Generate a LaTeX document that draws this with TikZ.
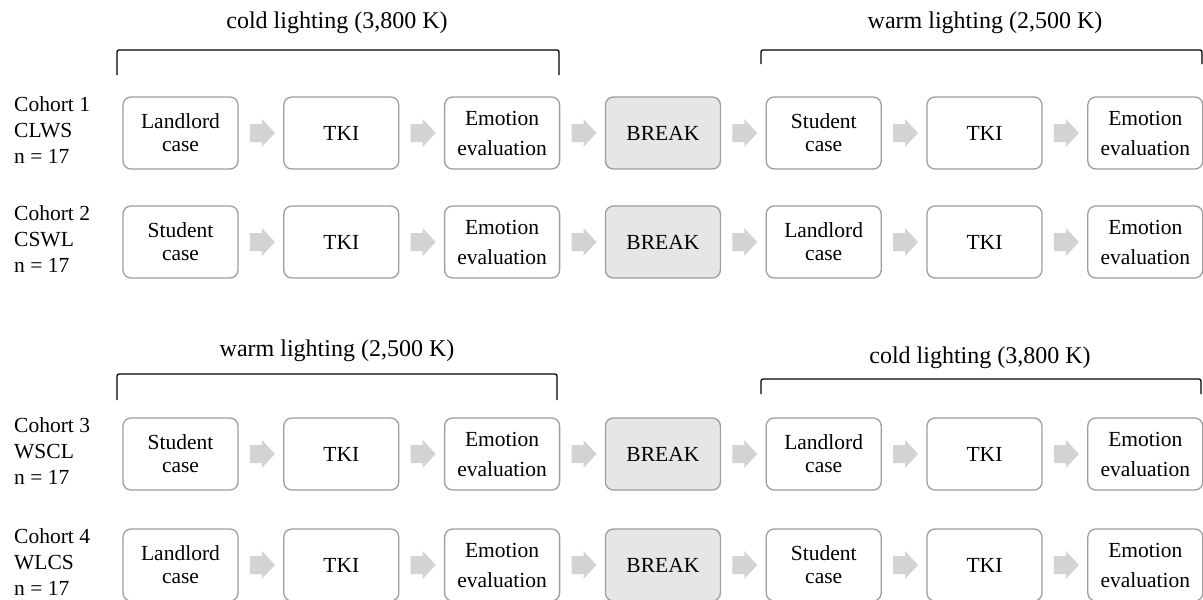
\documentclass[tikz,border=0pt]{standalone}
\usepackage{fontspec}
\setmainfont{Liberation Serif}
\usetikzlibrary{calc}
\definecolor{boxgray}{HTML}{9E9E9E}
\definecolor{arrowgray}{HTML}{D3D3D3}
\definecolor{breakfill}{HTML}{E6E6E6}
\begin{document}
\begin{tikzpicture}[x=1pt,y=-1pt,
  stage/.style={draw=boxgray, line width=1.3pt, rounded corners=8pt,
    minimum width=115pt, minimum height=72pt, inner sep=0pt, align=center,
    fill=white, font=\fontsize{21.5}{23}\selectfont},
  brk/.style={stage, fill=breakfill},
  emo/.style={font=\fontsize{21.5}{30}\selectfont},
  cohort/.style={anchor=west, align=left, inner sep=0pt,
    font=\fontsize{21.5}{26}\selectfont},
  lbl/.style={inner sep=0pt, font=\fontsize{24}{28}\selectfont},
  bracket/.style={draw=black, line width=1.3pt, rounded corners=2pt},
  flowarrow/.pic={\fill[arrowgray] (-11,-9) -- (1,-9) -- (1,-14) -- (14,0)
    -- (1,14) -- (1,9) -- (-11,9) -- cycle;}
]
\useasboundingbox (0,0) rectangle (1203,600);

% lighting labels
\node[lbl] (t1) at (337,23) {cold lighting (3,800 K)};
\node[lbl] (t2) at (985,23) {warm lighting (2,500 K)};
\node[lbl] (t3) at (337,351) {warm lighting (2,500 K)};
\node[lbl] (t4) at (980,358) {cold lighting (3,800 K)};

% brackets
\draw[bracket] (117,75) -- (117,50) -- (559,50) -- (559,75);
\draw[bracket] (761,64) -- (761,50) -- (1202,50) -- (1202,64);
\draw[bracket] (117,400) -- (117,374) -- (557,374) -- (557,400);
\draw[bracket] (761,394) -- (761,379) -- (1201,379) -- (1201,394);

\foreach \r/\yy/\coh/\cod/\fa/\fb in {1/133/1/CLWS/Landlord/Student,
    2/242/2/CSWL/Student/Landlord, 3/454/3/WSCL/Student/Landlord,
    4/565/4/WLCS/Landlord/Student}{
  \node[cohort] (c\r) at (14,\yy-2.5) {Cohort \coh\\\cod\\n = 17};
  \node[stage] (r\r-1) at (180.5,\yy) {\fa\\case};
  \node[stage] (r\r-2) at (341.3,\yy) {TKI};
  \node[stage,emo] (r\r-3) at (502.1,\yy) {Emotion\\evaluation};
  \node[brk] (r\r-4) at (662.9,\yy) {BREAK};
  \node[stage] (r\r-5) at (823.7,\yy) {\fb\\case};
  \node[stage] (r\r-6) at (984.5,\yy) {TKI};
  \node[stage,emo] (r\r-7) at (1145.3,\yy) {Emotion\\evaluation};
  \foreach \i [evaluate=\i as \j using int(\i+1)] in {1,...,6}{
    \pic at ($(r\r-\i.east)!0.5!(r\r-\j.west)$) {flowarrow};
  }
}
\end{tikzpicture}
\end{document}
